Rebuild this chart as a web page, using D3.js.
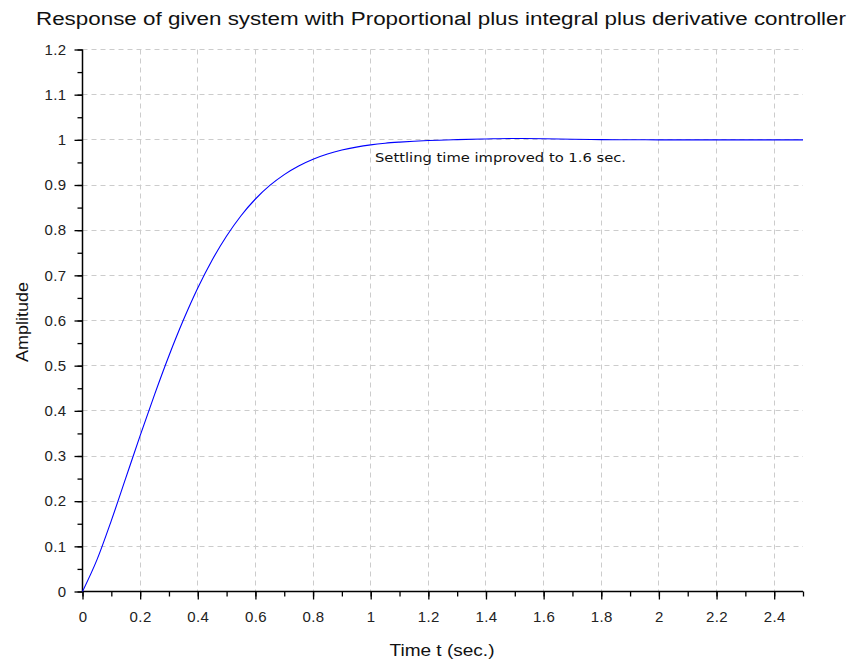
<!DOCTYPE html>
<html>
<head>
<meta charset="utf-8">
<script src="https://cdn.jsdelivr.net/npm/d3@7"></script>
<style>
  html,body{margin:0;padding:0;background:#fff;}
  text{font-family:"Liberation Sans",Arial,sans-serif;}
</style>
</head>
<body>
<div id="chart"></div>
<script>
// step response
const timeValues = [0,0.05,0.1,0.15,0.2,0.25,0.3,0.35,0.4,0.45,0.5,0.55,0.6,0.65,0.7,0.75,0.8,0.85,0.9,0.95,1.0,1.05,1.1,1.15,1.2,1.3,1.4,1.5,1.6,1.7,1.8,1.9,2.0,2.2,2.5];
const amplitudeValues = [0,0.07,0.157,0.251,0.345,0.436,0.522,0.601,0.672,0.734,0.787,0.832,0.869,0.899,0.923,0.942,0.957,0.9685,0.9773,0.9839,0.9889,0.9925,0.995,0.997,0.9985,1.0005,1.002,1.003,1.0025,1.0012,1.0005,1.0002,1.0,1.0,1.0];
const xTicks = [0,0.2,0.4,0.6,0.8,1,1.2,1.4,1.6,1.8,2,2.2,2.4];
const yTicks = [0,0.1,0.2,0.3,0.4,0.5,0.6,0.7,0.8,0.9,1,1.1,1.2];
const titleText = "Response of given system with Proportional plus integral plus derivative controller";
const noteText = "Settling time improved to 1.6 sec.";
const notePos = [1.015, 0.952];

(function(){
  const W=853,H=666;
  const L=82.5,R=803,T=49.5,B=591.5;
  const svg=d3.select('#chart').append('svg').attr('width',W).attr('height',H);
  const x=d3.scaleLinear().domain([0,2.5]).range([L,R]);
  const y=d3.scaleLinear().domain([0,1.2]).range([B,T]);
  const px=v=>Math.floor(v)+0.5;

  // grid
  const grid=svg.append('g').attr('stroke','#cccccc').attr('stroke-dasharray','5,4').attr('stroke-width',1);
  grid.selectAll('line.v').data(xTicks.filter(d=>d>0)).enter().append('line')
    .attr('x1',d=>px(x(d))).attr('x2',d=>px(x(d))).attr('y1',T).attr('y2',B);
  grid.selectAll('line.h').data(yTicks.filter(d=>d>0)).enter().append('line')
    .attr('y1',d=>px(y(d))).attr('y2',d=>px(y(d))).attr('x1',L).attr('x2',R);

  // axes (minor ticks every 0.1 / 0.05, major ones labelled)
  const xMinor=d3.range(0,26).map(i=>i/10);
  const yMinor=d3.range(0,25).map(i=>i/20);
  svg.append('g').attr('transform',`translate(0,${B})`)
    .call(d3.axisBottom(x).tickValues(xMinor).tickSize(5).tickFormat(''))
    .call(g=>g.select('.domain').remove());
  svg.append('g').attr('transform',`translate(0,${B})`)
    .call(d3.axisBottom(x).tickValues(xTicks).tickSize(8).tickPadding(12).tickFormat(d3.format('')))
    .call(g=>g.select('.domain').attr('d',`M${L},0H${R}`));
  svg.append('g').attr('transform',`translate(${L},0)`)
    .call(d3.axisLeft(y).tickValues(yMinor).tickSize(5).tickFormat(''))
    .call(g=>g.select('.domain').remove());
  svg.append('g').attr('transform',`translate(${L},0)`)
    .call(d3.axisLeft(y).tickValues(yTicks).tickSize(8).tickPadding(8).tickFormat(d3.format('')))
    .call(g=>g.select('.domain').attr('d',`M0,${T}V${B}`));
  svg.selectAll('.tick line').attr('stroke','#000').attr('stroke-width',1.3);
  svg.selectAll('.domain').attr('stroke','#000').attr('stroke-width',1.5);
  svg.selectAll('.tick text').attr('fill','#222').style('font-size','15px')
    .style('letter-spacing','0.4px').style('font-family','"Liberation Sans",Arial,sans-serif');

  // curve
  const data=timeValues.map((t,i)=>({t,v:amplitudeValues[i]}));
  svg.append('path').datum(data)
    .attr('fill','none').attr('stroke','#0000ff').attr('stroke-width',1.1)
    .attr('d',d3.line().x(d=>x(d.t)).y(d=>y(d.v)).curve(d3.curveMonotoneX));

  // texts
  svg.append('text').attr('x',441).attr('y',25).attr('text-anchor','middle')
    .attr('textLength',810).attr('lengthAdjust','spacingAndGlyphs')
    .style('font-size','18px').attr('fill','#111').text(titleText);
  svg.append('text').attr('x',442).attr('y',656).attr('text-anchor','middle')
    .attr('textLength',105).attr('lengthAdjust','spacingAndGlyphs')
    .style('font-size','17px').attr('fill','#111').text('Time t (sec.)');
  svg.append('text').attr('transform','translate(28,322) rotate(-90)').attr('text-anchor','middle')
    .attr('textLength',80).attr('lengthAdjust','spacingAndGlyphs')
    .style('font-size','17px').attr('fill','#111').text('Amplitude');
  svg.append('text').attr('x',x(notePos[0])).attr('y',y(notePos[1]))
    .attr('textLength',251).attr('lengthAdjust','spacingAndGlyphs')
    .style('font-size','12.5px').style('font-family','"DejaVu Sans",sans-serif')
    .attr('fill','#111').text(noteText);
})();
</script>
</body>
</html>
